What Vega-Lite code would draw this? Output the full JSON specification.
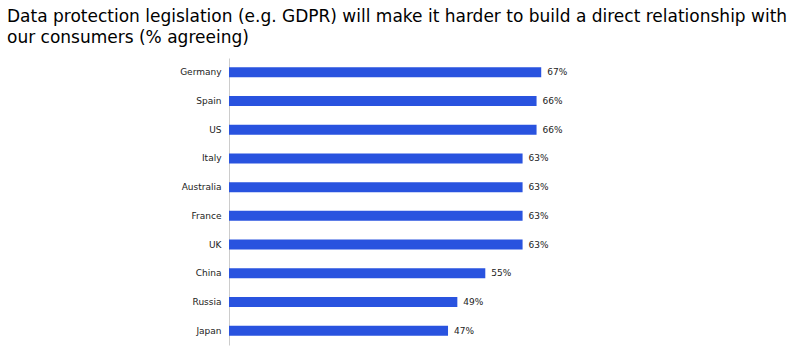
{
  "$schema": "https://vega.github.io/schema/vega-lite/v6.json",
  "autosize": {"type": "none"},
  "width": 466,
  "height": 287,
  "padding": {"left": 229, "top": 58, "right": 105, "bottom": 5},
  "background": "white",
  "title": {
    "text": ["Data protection legislation (e.g. GDPR) will make it harder to build a direct relationship with", "our consumers (% agreeing)"],
    "anchor": "start",
    "frame": "group",
    "dx": -222,
    "limit": 900,
    "font": "DejaVu Sans",
    "fontSize": 17,
    "fontWeight": "normal",
    "color": "#000000",
    "lineHeight": 21,
    "offset": 11
  },
  "data": {
    "values": [
      {"country": "Germany", "value": 67},
      {"country": "Spain", "value": 66},
      {"country": "US", "value": 66},
      {"country": "Italy", "value": 63},
      {"country": "Australia", "value": 63},
      {"country": "France", "value": 63},
      {"country": "UK", "value": 63},
      {"country": "China", "value": 55},
      {"country": "Russia", "value": 49},
      {"country": "Japan", "value": 47}
    ]
  },
  "transform": [{"calculate": "datum.value + '%'", "as": "label"}],
  "encoding": {
    "y": {
      "field": "country",
      "type": "nominal",
      "sort": null,
      "scale": {"paddingInner": 0.65, "paddingOuter": 0.325},
      "axis": {
        "title": null,
        "ticks": false,
        "domainColor": "#cccccc",
        "labelFont": "DejaVu Sans",
        "labelFontSize": 9,
        "labelColor": "#222222",
        "labelPadding": 8
      }
    },
    "x": {
      "field": "value",
      "type": "quantitative",
      "scale": {"domain": [0, 100]},
      "axis": null
    }
  },
  "layer": [
    {"mark": {"type": "bar", "color": "#2953df"}},
    {
      "mark": {"type": "text", "align": "left", "dx": 6, "font": "DejaVu Sans", "fontSize": 9, "color": "#222222"},
      "encoding": {"text": {"field": "label"}}
    }
  ],
  "config": {"view": {"stroke": null}}
}
